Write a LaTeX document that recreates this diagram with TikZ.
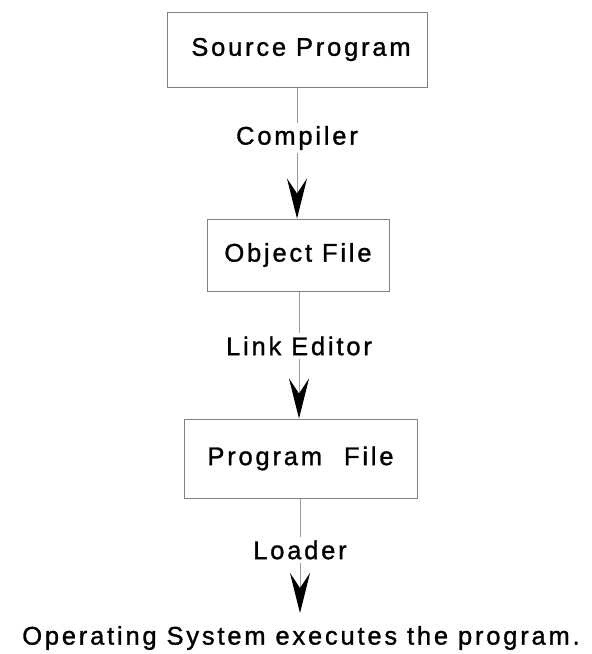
\documentclass[tikz,border=0pt]{standalone}
\usepackage{fontspec}
\setmainfont{Liberation Sans}[LetterSpace=11, FakeBold=1.2]
\usetikzlibrary{arrows.meta}
\begin{document}
\begin{tikzpicture}[x=1pt,y=-1pt,
  every node/.style={font=\fontsize{25.5}{30}\selectfont},
  box/.style={draw=black!50, line width=1pt, inner sep=0pt},
  lbl/.style={inner sep=3pt},
  conn/.style={draw=black!40, line width=1pt},
  arr/.style={draw=black!40, line width=1pt, -{Stealth[length=40pt,width=20pt,inset=15pt,color=black]}}]
\useasboundingbox (0,0) rectangle (592,654);
\node[box, minimum width=260pt, minimum height=75pt] (src) at (297,49.5) {\hspace{8pt}Source Program};
\node[box, minimum width=182pt, minimum height=72pt] (obj) at (298,255) {Object File};
\node[box, minimum width=233pt, minimum height=79pt] (prog) at (300.5,458.5) {Program\hspace{22pt}File};
\node[lbl] (comp) at (297,138) {Compiler};
\node[lbl] (link) at (299,346) {Link Editor};
\node[lbl] (load) at (300,550) {Loader};
\node[inner sep=0pt] (os) at (301,638) {Operating System executes the program.};
\coordinate (osin) at (300,613);
\draw[conn] (src.south -| comp.north) -- (comp.north);
\draw[arr] (comp.south) -- (comp.south |- obj.north);
\draw[conn] (obj.south -| link.north) -- (link.north);
\draw[arr] (link.south) -- (link.south |- prog.north);
\draw[conn] (prog.south -| load.north) -- (load.north);
\draw[arr] (load.south) -- (osin);
\end{tikzpicture}
\end{document}
